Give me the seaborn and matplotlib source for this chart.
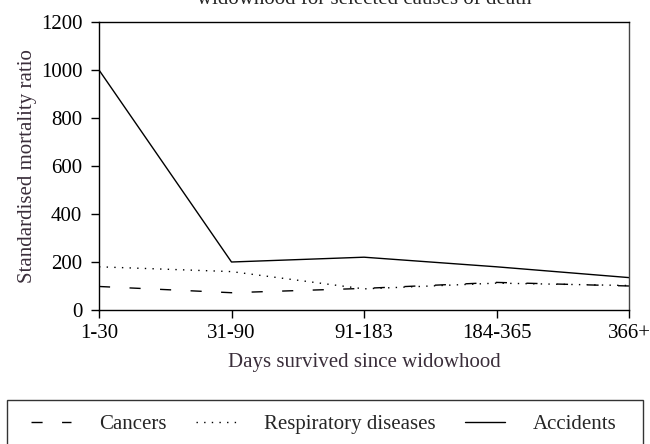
import matplotlib
matplotlib.use("Agg")
import matplotlib.pyplot as plt
from matplotlib.patches import Rectangle
import seaborn as sns
import pandas as pd

periods = ["1-30", "31-90", "91-183", "184-365", "366+"]
cancers = [98, 72, 90, 115, 100]
respiratory = [180, 160, 88, 112, 102]
accidents = [1000, 200, 220, 180, 135]
series_names = ["Cancers", "Respiratory diseases", "Accidents"]
y_ticks = [0, 200, 400, 600, 800, 1000, 1200]

df = pd.DataFrame({
    "period": periods * 3,
    "smr": cancers + respiratory + accidents,
    "cause": [series_names[0]] * 5 + [series_names[1]] * 5 + [series_names[2]] * 5,
})

sns.set_theme(style="ticks")
plt.rcParams["font.family"] = ["Liberation Serif", "DejaVu Serif"]
FS = 15

fig = plt.figure(figsize=(6.5, 4.44), dpi=100)
ax = fig.add_axes([99 / 650, 1 - 310 / 444, 530 / 650, 288 / 444])

sns.lineplot(
    data=df, x="period", y="smr", hue="cause", style="cause",
    palette={n: "black" for n in series_names},
    dashes={"Cancers": (8, 14), "Respiratory diseases": (1, 4.5), "Accidents": ""},
    linewidth=1.0, ax=ax, legend=True, sort=False,
)

ax.set_xlim(0, 4)
ax.set_ylim(0, 1200)
ax.set_yticks(y_ticks)
ax.set_xticks(range(len(periods)))
ax.set_xticklabels(periods)
ax.tick_params(axis="both", direction="out", length=5.5, width=1, colors="black",
               labelsize=FS)
ax.tick_params(axis="y", pad=6.5)
ax.tick_params(axis="x", pad=4.5)
for s in ax.spines.values():
    s.set_visible(True)
    s.set_color("black")
    s.set_linewidth(1.0)
ax.spines["right"].set_color("#444444")
ax.set_xlabel("Days survived since widowhood", color="#3a2e3a", fontsize=FS, labelpad=7.5)
ax.set_ylabel("Standardised mortality ratio", color="#3a2e3a", fontsize=FS, labelpad=3)

handles, labels = ax.get_legend_handles_labels()
ax.get_legend().remove()
leg = fig.legend(
    handles, labels, ncol=3,
    bbox_to_anchor=(31 / 650, 1 - 424 / 444),
    loc="center left", frameon=False,
    fontsize=FS, handlelength=1.92, handletextpad=1.35, columnspacing=1.4,
    borderpad=0, borderaxespad=0,
)
fig.add_artist(Rectangle((7 / 650, 1 - 449 / 444), 636 / 650, 49 / 444,
                         transform=fig.transFigure, fill=False,
                         edgecolor="#333333", linewidth=1.0))

fig.text((99 + 629) / 2 / 650, 1 - 4 / 444, "widowhood for selected causes of death",
         ha="center", va="baseline", fontsize=FS)

fig.savefig("out.png", dpi=100)
